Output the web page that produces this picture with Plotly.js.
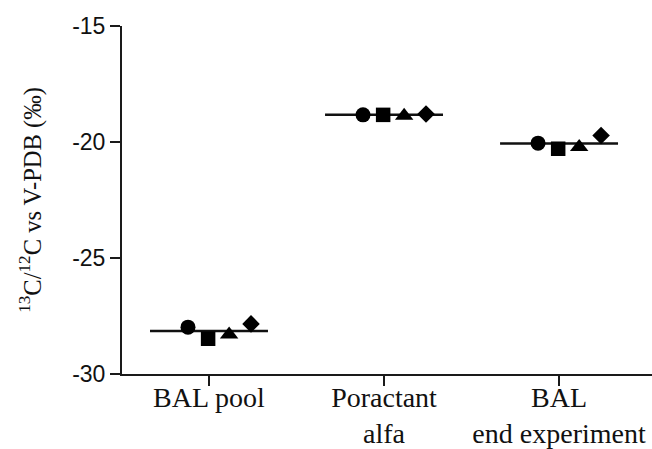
<!DOCTYPE html>
<html><head><meta charset="utf-8">
<script src="https://cdn.plot.ly/plotly-3.0.1.min.js"></script>
<style>html,body{margin:0;padding:0;background:#fff}#chart{width:652px;height:449px}</style>
</head><body><div id="chart"></div>
<script>
// Categories and values (‰)
const categories = ["BAL pool", "Poractant<br>alfa", "BAL<br>end experiment"];
const circleValues   = [-27.98, -18.83, -20.05];
const squareValues   = [-28.48, -18.83, -20.29];
const triangleValues = [-28.30, -18.87, -20.22];
const diamondValues  = [-27.84, -18.79, -19.72];
const yTickVals = [-30, -25, -20, -15];
const yTickText = ["-30", "-25", "-20", "-15"];

// style: horizontal jitter of each marker series within a group, and half-width of mean line
const series = [
  {vals: circleValues,   symbol: "circle",      size: 15, dx: -0.12},
  {vals: squareValues,   symbol: "square",      size: 14.5, dx: -0.005},
  {vals: triangleValues, symbol: "triangle-up", size: 16, dx: 0.115},
  {vals: diamondValues,  symbol: "diamond",     size: 13.5, dx: 0.24}
];
const halfLine = 0.337;

const idx = categories.map((_, i) => i);
const means = idx.map(i => series.reduce((s, se) => s + se.vals[i], 0) / series.length);

const lineX = [], lineY = [];
idx.forEach(i => { lineX.push(i - halfLine, i + halfLine, null); lineY.push(means[i], means[i], null); });

const traces = [{
  x: lineX, y: lineY, mode: "lines", type: "scatter",
  line: {color: "#111", width: 2.5}, hoverinfo: "skip", showlegend: false
}];
series.forEach(se => {
  traces.push({
    x: idx.map(i => i + se.dx), y: se.vals, mode: "markers", type: "scatter",
    marker: {symbol: se.symbol, size: se.size, color: "#000", line: {width: 0}},
    showlegend: false
  });
});

const layout = {
  width: 652, height: 449,
  margin: {l: 122, r: 0, t: 26, b: 75},
  paper_bgcolor: "#fff", plot_bgcolor: "#fff",
  showlegend: false,
  xaxis: {
    range: [-0.497, 2.531], tickvals: idx, ticktext: categories,
    ticks: "outside", ticklen: 10, tickwidth: 2, tickcolor: "#1a1a1a",
    ticklabelstandoff: -13,
    showline: true, linewidth: 2, linecolor: "#1a1a1a",
    showgrid: false, zeroline: false,
    tickfont: {family: "Liberation Serif, Times New Roman, serif", size: 28, color: "#111"}
  },
  yaxis: {
    range: [-30, -15], tickvals: yTickVals, ticktext: yTickText,
    ticks: "outside", ticklen: 10, tickwidth: 2, tickcolor: "#1a1a1a",
    showline: true, linewidth: 2, linecolor: "#1a1a1a",
    showgrid: false, zeroline: false,
    tickfont: {family: "Liberation Sans, Arial, sans-serif", size: 23, color: "#111"},
    title: {text: "<sup>13</sup>C/<sup>12</sup>C vs V-PDB (‰)",
            font: {family: "Liberation Serif, Times New Roman, serif", size: 24.5, color: "#111"},
            standoff: 24}
  }
};
Plotly.newPlot("chart", traces, layout, {staticPlot: true, displayModeBar: false});
</script></body></html>
